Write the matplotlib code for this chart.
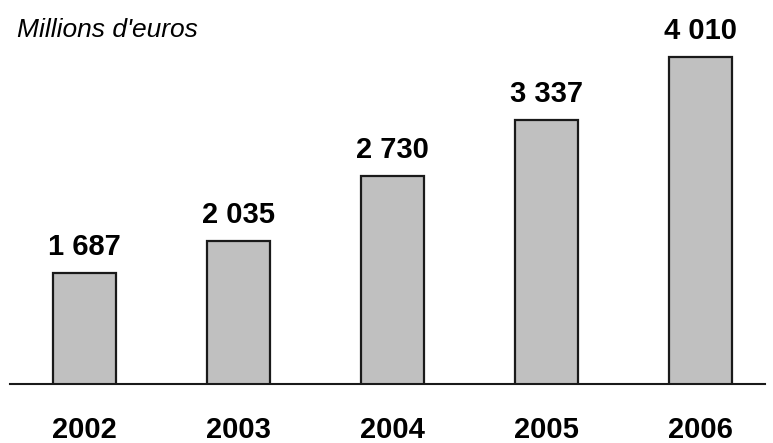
import matplotlib
matplotlib.use("Agg")
import matplotlib.pyplot as plt

years = ["2002", "2003", "2004", "2005", "2006"]
values = [1687, 2035, 2730, 3337, 4010]
value_labels = ["1 687", "2 035", "2 730", "3 337", "4 010"]

plt.rcParams["font.family"] = ["Liberation Sans", "DejaVu Sans"]

W, H = 773, 443
fig = plt.figure(figsize=(W / 100, H / 100), dpi=100)
ax = fig.add_axes([10 / W, 59 / H, 755 / W, 384 / H])

x = list(range(len(years)))
ax.bar(x, values, width=0.41, bottom=0, color="#c0c0c0",
       edgecolor="#1a1a1a", linewidth=1.6, zorder=2)

ax.set_xlim(-0.484, 4.419)
ax.set_ylim(500, 4624)

for xi, v, lab in zip(x, values, value_labels):
    ax.annotate(lab, (xi, v), xytext=(0, 13), textcoords="offset points",
                ha="center", va="baseline", fontsize=21, fontweight="bold",
                annotation_clip=False)

for xi, yr in zip(x, years):
    ax.annotate(yr, (xi, 500), xytext=(0, -39), textcoords="offset points",
                ha="center", va="baseline", fontsize=21, fontweight="bold",
                annotation_clip=False)

for s in ["top", "right", "left"]:
    ax.spines[s].set_visible(False)
ax.spines["bottom"].set_linewidth(1.5)
ax.spines["bottom"].set_color("#1a1a1a")
ax.set_xticks([])
ax.set_yticks([])

fig.text(17 / W, 1 - 37 / H, "Millions d'euros", fontsize=19, style="italic",
         ha="left", va="baseline")

fig.savefig("out.png", dpi=100)
